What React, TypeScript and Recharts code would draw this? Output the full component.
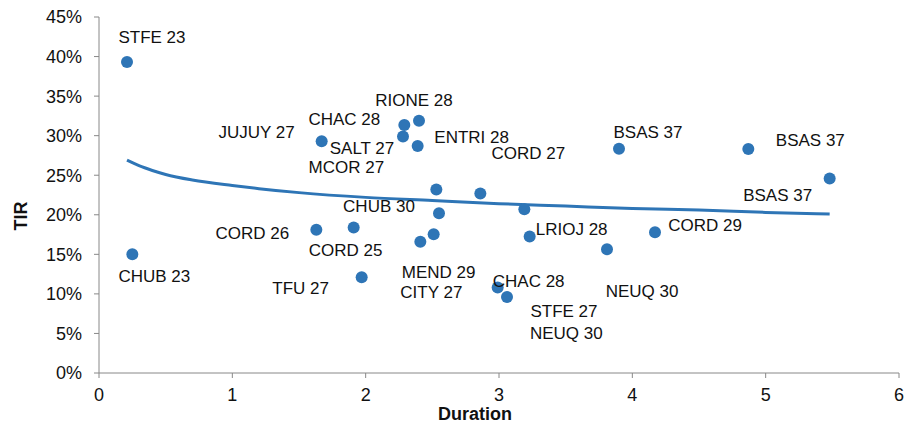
import { ComposedChart, Scatter, Line, XAxis, YAxis } from 'recharts';

const bondNames = [
  'STFE 23', 'CHUB 23', 'JUJUY 27', 'CHAC 28', 'RIONE 28', 'SALT 27', 'ENTRI 28', 'MCOR 27',
  'CORD 27', 'NEUQ 30', 'CHUB 30', 'CORD 26', 'CORD 25', 'TFU 27', 'CITY 27', 'MEND 29',
  'LRIOJ 28', 'NEUQ 30', 'CORD 29', 'CHAC 28', 'STFE 27', 'BSAS 37', 'BSAS 37', 'BSAS 37',
];
const durations = [
  0.21, 0.25, 1.67, 2.29, 2.4, 2.28, 2.39, 2.53,
  2.86, 3.19, 2.55, 1.63, 1.91, 1.97, 2.41, 2.51,
  3.23, 3.81, 4.17, 2.99, 3.06, 3.9, 4.87, 5.48,
];
const tirs = [
  0.393, 0.150, 0.293, 0.3135, 0.319, 0.299, 0.287, 0.232,
  0.227, 0.207, 0.202, 0.181, 0.184, 0.121, 0.166, 0.1755,
  0.1725, 0.1565, 0.178, 0.108, 0.096, 0.2835, 0.283, 0.246,
];

// log trendline
const trendX = [0.21, 0.3, 0.4, 0.5, 0.7, 1, 1.2, 1.5, 2, 2.5, 3, 3.5, 4, 4.5, 5, 5.48];
const trendY = [0.269, 0.262, 0.256, 0.251, 0.244, 0.237, 0.233, 0.228, 0.222, 0.218, 0.214, 0.211, 0.208, 0.206, 0.203, 0.201];

const xTicks = [0, 1, 2, 3, 4, 5, 6];
const yTicks = [0, 0.05, 0.1, 0.15, 0.2, 0.25, 0.3, 0.35, 0.4, 0.45];

// label placement relative to each dot (dx, dy)
const labelOffsets: [number, number][] = [
  [25, -25], [22, 22], [-65, -9], [-60, -5], [-5, -20], [-41, 12], [54, -8], [-90, -22],
  [48, -40], [42, 124], [-60, -7], [-64, 4], [-8, 23], [-61, 11], [11, 51], [5, 38],
  [42, -7], [35, 42], [50, -7], [31, -6], [57, 14], [29, -16], [62, -9], [-52, 17],
];

const points = bondNames.map((name, i) => ({ x: durations[i], y: tirs[i], name, i }));
const trend = trendX.map((x, i) => ({ x, y: trendY[i] }));

const BLUE = '#2E75B6';
const FONT = '"Liberation Sans", Arial, sans-serif';

const Dot = (props: any) => {
  const { cx, cy, payload } = props;
  const [dx, dy] = labelOffsets[payload.i];
  return (
    <g>
      <circle cx={cx} cy={cy} r={6} fill={BLUE} />
      <text x={cx + dx} y={cy + dy} textAnchor="middle" dominantBaseline="central" fontSize={17} fill="#111" fontFamily={FONT}>
        {payload.name}
      </text>
    </g>
  );
};

export default function App() {
  const tick = { fill: '#111', fontSize: 18, fontFamily: FONT };
  return (
    <div style={{ position: 'fixed', left: 0, top: 0, background: '#fff' }}>
      <ComposedChart width={904} height={424} margin={{ top: 17, right: 5, left: 0, bottom: 0 }}>
        <XAxis
          type="number"
          dataKey="x"
          domain={[0, 6]}
          ticks={xTicks}
          height={51}
          stroke="#888"
          tick={tick}
          tickSize={5}
          tickMargin={10}
          label={{
            content: ({ viewBox }: any) => (
              <text x={viewBox.x + viewBox.width / 2 - 24} y={viewBox.y + 41} textAnchor="middle" dominantBaseline="central" fontSize={18} fontWeight="bold" fill="#111" fontFamily={FONT}>
                Duration
              </text>
            ),
          }}
        />
        <YAxis
          type="number"
          dataKey="y"
          domain={[0, 0.45]}
          ticks={yTicks}
          width={99}
          stroke="#888"
          tick={tick}
          tickSize={5}
          tickMargin={12}
          tickFormatter={(v: number) => `${Math.round(v * 100)}%`}
          label={{
            content: ({ viewBox }: any) => (
              <text x={21} y={viewBox.y + viewBox.height / 2 + 21} textAnchor="middle" dominantBaseline="central" fontSize={18} fontWeight="bold" fill="#111" fontFamily={FONT} transform={`rotate(-90 21 ${viewBox.y + viewBox.height / 2 + 21})`}>
                TIR
              </text>
            ),
          }}
        />
        <Line data={trend} dataKey="y" type="monotone" stroke={BLUE} strokeWidth={3} dot={false} activeDot={false} isAnimationActive={false} />
        <Scatter data={points} dataKey="y" fill={BLUE} shape={<Dot />} isAnimationActive={false} />
      </ComposedChart>
    </div>
  );
}
